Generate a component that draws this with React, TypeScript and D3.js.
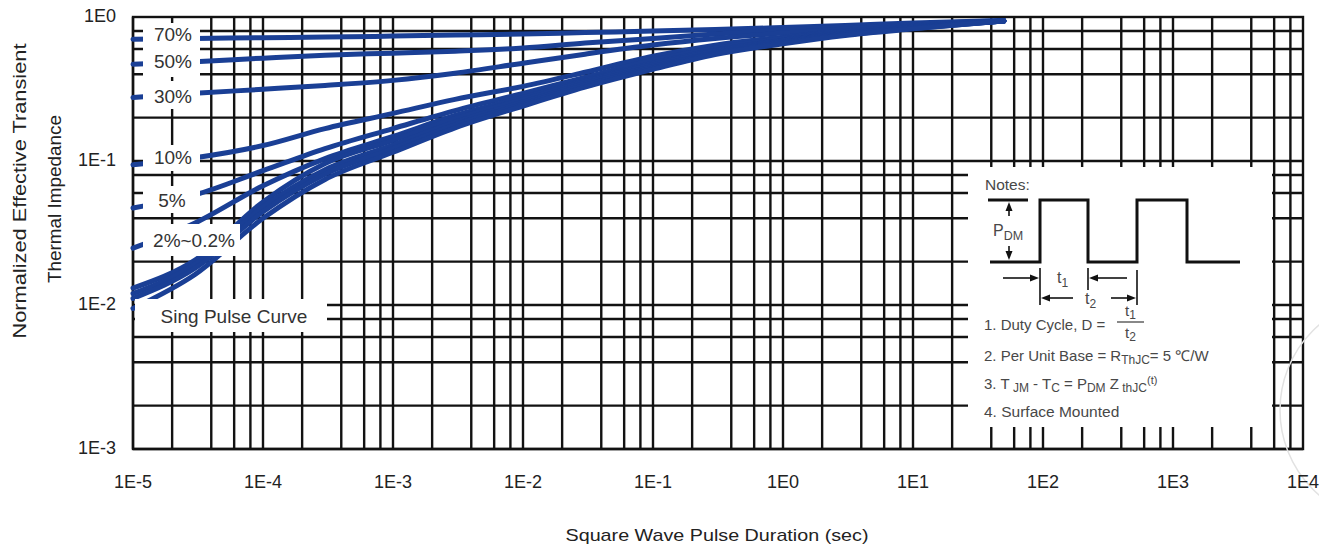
import React from 'react';
import * as d3 from 'd3';

const durations = [1e-5, 3e-5, 1e-4, 3e-4, 1e-3, 3e-3, 1e-2, 3e-2, 1e-1, 3e-1, 1, 3, 10, 50];

// normalized Zth for each duty cycle
const z70 = [0.702, 0.708, 0.719, 0.725, 0.737, 0.749, 0.761, 0.779, 0.798, 0.818, 0.845, 0.872, 0.908, 0.945];
const z50 = [0.47, 0.489, 0.518, 0.543, 0.561, 0.579, 0.608, 0.659, 0.708, 0.761, 0.811, 0.852, 0.894, 0.945];
const z30 = [0.276, 0.295, 0.315, 0.335, 0.363, 0.407, 0.478, 0.552, 0.638, 0.708, 0.773, 0.825, 0.88, 0.938];
const z10 = [0.0942, 0.1054, 0.128, 0.168, 0.214, 0.268, 0.33, 0.413, 0.534, 0.638, 0.725, 0.798, 0.865, 0.938];
const z5 = [0.0472, 0.0582, 0.0856, 0.122, 0.168, 0.224, 0.295, 0.381, 0.501, 0.608, 0.708, 0.786, 0.858, 0.938];
const z2 = [0.0248, 0.0371, 0.0673, 0.104, 0.148, 0.207, 0.276, 0.363, 0.478, 0.588, 0.691, 0.773, 0.852, 0.938];
const z1 = [0.0131, 0.0205, 0.052, 0.096, 0.139, 0.197, 0.267, 0.356, 0.466, 0.578, 0.683, 0.769, 0.846, 0.938];
const z05 = [0.012, 0.0192, 0.048, 0.087, 0.129, 0.186, 0.256, 0.346, 0.453, 0.566, 0.673, 0.763, 0.84, 0.938];
const z02 = [0.0111, 0.018, 0.0445, 0.081, 0.122, 0.178, 0.248, 0.336, 0.443, 0.557, 0.663, 0.752, 0.833, 0.938];
const zSingle = [0.00947, 0.0163, 0.04, 0.0745, 0.115, 0.17, 0.241, 0.326, 0.433, 0.548, 0.652, 0.745, 0.827, 0.938];

const series = [z70, z50, z30, z10, z5, z2, z1, z05, z02, zSingle];

const xExponents = [-5, -4, -3, -2, -1, 0, 1, 2, 3, 4];
const yExponents = [-3, -2, -1, 0];
const gridSteps = [1, 2, 4, 6, 8];

const W = 1319;
const H = 544;
const left = 133, right = 1303, top = 17, bottom = 449;
const font = '"Liberation Sans", Arial, Helvetica, sans-serif';
const blue = '#1a3f95';
const gridColor = '#121212';

const x = d3.scaleLog().domain([1e-5, 1e4]).range([left, right]);
const y = d3.scaleLog().domain([1e-3, 1]).range([bottom, top]);

const line = d3.line<[number, number]>()
  .x(d => x(d[0]))
  .y(d => y(d[1]))
  .curve(d3.curveMonotoneX);

const xGrid: number[] = [];
xExponents.slice(0, -1).forEach(e => gridSteps.forEach(m => xGrid.push(m * Math.pow(10, e))));
const yGrid: number[] = [];
yExponents.slice(0, -1).forEach(e => gridSteps.forEach(m => yGrid.push(m * Math.pow(10, e))));

// label boxes that blank out the grid/curves on the left
const labels = [
  { text: '70%', cx: 173, cy: 34 },
  { text: '50%', cx: 173, cy: 61 },
  { text: '30%', cx: 173, cy: 96 },
  { text: '10%', cx: 173, cy: 157 },
  { text: '5%', cx: 172, cy: 200 },
  { text: '2%~0.2%', cx: 194, cy: 240 },
  { text: 'Sing Pulse Curve', cx: 234, cy: 316 },
];
const boxes = [
  { x: 143, y: 23, w: 57, h: 54 },
  { x: 143, y: 81, w: 57, h: 28 },
  { x: 143, y: 145, w: 57, h: 26 },
  { x: 143, y: 186, w: 57, h: 27 },
  { x: 143, y: 224, w: 97, h: 32 },
  { x: 135, y: 299, w: 192, h: 33 },
];

const Arrow = ({ x1, y1, x2, y2 }: { x1: number; y1: number; x2: number; y2: number }) => {
  const a = Math.atan2(y2 - y1, x2 - x1);
  const L = 9, Wd = 3.5;
  const bx = x2 - L * Math.cos(a), by = y2 - L * Math.sin(a);
  const p = `M${x2},${y2} L${bx - Wd * Math.sin(a)},${by + Wd * Math.cos(a)} L${bx + Wd * Math.sin(a)},${by - Wd * Math.cos(a)} Z`;
  return (
    <g>
      <line x1={x1} y1={y1} x2={bx} y2={by} stroke="#111" strokeWidth={1.6} />
      <path d={p} fill="#111" />
    </g>
  );
};

const Notes = () => {
  const nx = 968, ny = 167, nw = 304, nh = 260;
  const pulse = `M990,262 H1040 V200 H1088 V262 H1137 V200 H1187 V262 H1240`;
  const tc = '#484848';
  return (
    <g fontFamily={font} fill={tc}>
      <rect x={nx} y={ny} width={nw} height={nh} fill="#fff" />
      <text x={985} y={190} fontSize={15.5}>Notes:</text>
      <path d={pulse} fill="none" stroke="#111" strokeWidth={3} />
      <line x1={988} x2={1028} y1={200} y2={200} stroke="#111" strokeWidth={3} />
      <Arrow x1={1009} y1={216} x2={1009} y2={202} />
      <Arrow x1={1009} y1={246} x2={1009} y2={260} />
      <text x={993} y={236} fontSize={16}>P<tspan fontSize={12.5} dy={4}>DM</tspan></text>
      {/* t1 / t2 dimensions */}
      <line x1={1040} x2={1040} y1={268} y2={305} stroke="#111" strokeWidth={1.6} />
      <line x1={1088} x2={1088} y1={268} y2={290} stroke="#111" strokeWidth={1.6} />
      <line x1={1137} x2={1137} y1={270} y2={305} stroke="#111" strokeWidth={1.6} />
      <Arrow x1={1003} y1={278} x2={1039} y2={278} />
      <Arrow x1={1127} y1={278} x2={1089} y2={278} />
      <Arrow x1={1073} y1={298} x2={1041} y2={298} />
      <Arrow x1={1111} y1={298} x2={1136} y2={298} />
      <text x={1057} y={283} fontSize={16}>t<tspan fontSize={12} dy={4}>1</tspan></text>
      <text x={1085} y={304} fontSize={16}>t<tspan fontSize={12} dy={4}>2</tspan></text>
      {/* note lines */}
      <text x={984} y={330} fontSize={15}>1. Duty Cycle, D =</text>
      <text x={1125} y={316} fontSize={15}>t<tspan fontSize={12} dy={3}>1</tspan></text>
      <line x1={1117} x2={1144} y1={322} y2={322} stroke={tc} strokeWidth={1.3} />
      <text x={1125} y={338} fontSize={15}>t<tspan fontSize={12} dy={3}>2</tspan></text>
      <text x={984} y={361} fontSize={15}>
        2. Per Unit Base = R<tspan fontSize={12} dy={3}>ThJC</tspan><tspan dy={-3}>= 5 ℃/W</tspan>
      </text>
      <text x={984} y={389} fontSize={15}>
        3. T<tspan fontSize={12} dy={3}> JM</tspan><tspan dy={-3}> - T</tspan><tspan fontSize={12} dy={3}>C</tspan>
        <tspan dy={-3}> = P</tspan><tspan fontSize={12} dy={3}>DM</tspan><tspan dy={-3}> Z</tspan>
        <tspan fontSize={12} dy={3}> thJC</tspan><tspan fontSize={11} dy={-8}>(t)</tspan>
      </text>
      <text x={984} y={417} fontSize={15.5}>4. Surface Mounted</text>
    </g>
  );
};

export default function App() {
  return (
    <svg width={W} height={H} style={{ position: 'absolute', left: 0, top: 0, background: '#fff' }}>
      <rect width={W} height={H} fill="#fff" />
      {/* grid */}
      <g stroke={gridColor} strokeWidth={2.4}>
        {xGrid.map((v, i) => (
          <line key={'gx' + i} x1={x(v)} x2={x(v)} y1={top} y2={bottom} />
        ))}
        {yGrid.map((v, i) => (
          <line key={'gy' + i} x1={left} x2={right} y1={y(v)} y2={y(v)} />
        ))}
        <rect x={left} y={top} width={right - left} height={bottom - top} fill="none" />
      </g>
      {/* curves */}
      <g fill="none" stroke={blue} strokeWidth={5} strokeLinecap="round">
        {series.map((s, i) => (
          <path key={i} d={line(durations.map((t, j) => [t, s[j]] as [number, number])) || ''} />
        ))}
      </g>
      {/* label boxes */}
      <g fill="#fff">
        {boxes.map((b, i) => (
          <rect key={i} x={b.x} y={b.y} width={b.w} height={b.h} />
        ))}
      </g>
      <g fontFamily={font} fontSize={19} fill="#333" textAnchor="middle">
        {labels.map((l, i) => (
          <text key={i} x={l.cx} y={l.cy} dominantBaseline="central">{l.text}</text>
        ))}
      </g>
      <Notes />
      {/* faint watermark at right edge */}
      <circle cx={1392} cy={410} r={112} fill="none" stroke="#e2e2e2" strokeWidth={1.5} />
      {/* axes labels */}
      <g fontFamily={font} fontSize={18} fill="#222">
        {xExponents.map(e => (
          <text key={'xl' + e} x={x(Math.pow(10, e))} y={488} textAnchor="middle">{`1E${e}`}</text>
        ))}
        {yExponents.map(e => (
          <text key={'yl' + e} x={116} y={y(Math.pow(10, e)) - 1} textAnchor="end" dominantBaseline="central">{`1E${e}`}</text>
        ))}
        <text x={717} y={541} textAnchor="middle" fontSize={17} textLength={303} lengthAdjust="spacingAndGlyphs">
          Square Wave Pulse Duration (sec)
        </text>
        <text transform="translate(26,191) rotate(-90)" textAnchor="middle" fontSize={18} textLength={295} lengthAdjust="spacingAndGlyphs">
          Normalized Effective Transient
        </text>
        <text transform="translate(61,199) rotate(-90)" textAnchor="middle" fontSize={18} textLength={168} lengthAdjust="spacingAndGlyphs">
          Thermal Impedance
        </text>
      </g>
    </svg>
  );
}
